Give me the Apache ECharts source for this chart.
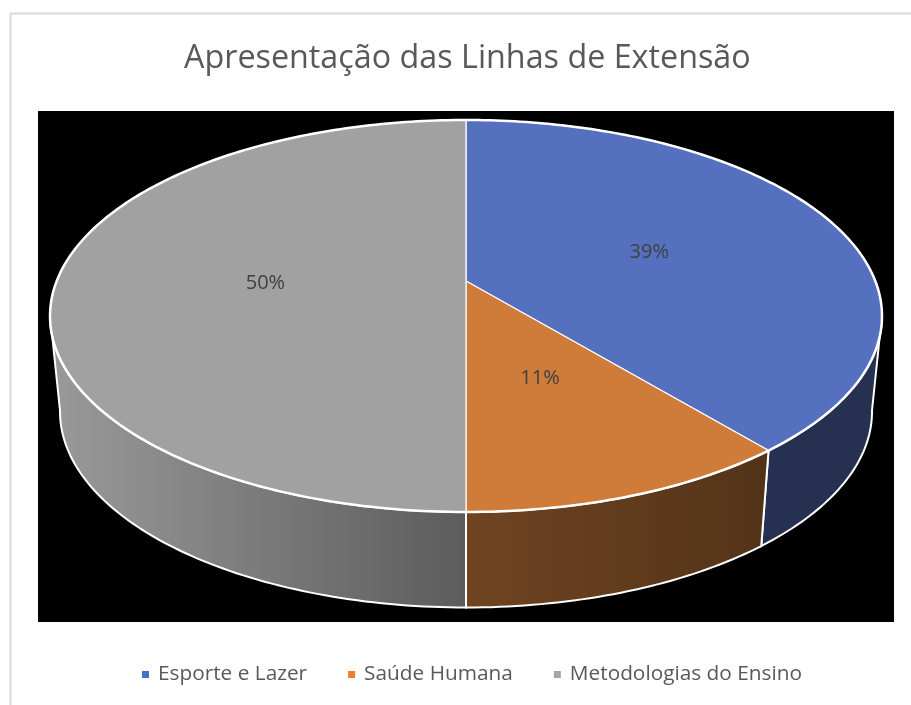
<!DOCTYPE html>
<html>
<head>
<meta charset="utf-8">
<style>
html, body { margin: 0; padding: 0; background: #fff; }
#main { width: 911px; height: 705px; }
</style>
<script src="https://cdn.jsdelivr.net/npm/echarts@6/dist/echarts.min.js"></script>
</head>
<body>
<div id="main"></div>
<script>
var categories = ['Esporte e Lazer', 'Saúde Humana', 'Metodologias do Ensino'];
var percentValues = [39, 11, 50];
var legendColors = ['#4472C4', '#ED7D31', '#A5A5A5'];
var topColors = ['#5570BF', '#CF7B39', '#A1A1A1'];
// wall gradient, left colour then right colour
var wallColors = [
    ['#263151', '#263151'],
    ['#704421', '#523318'],
    ['#9A9A9A', '#5C5C5C']
];

// projection of the tilted disc, Excel draws its 3D pie with some perspective
var pie = { cx: 466, cy: 281, a: 409.3, b: 189.75, k: -0.1786, wallX: 0.976, wallY: 95.5 };
// the wall only shows between these angles (degrees from the top, clockwise)
var wallFrom = 100, wallTo = 260;

function project(deg, r) {
    var t = deg * Math.PI / 180;
    var u = Math.sin(t) * r, v = -Math.cos(t) * r;
    var w = 1 + pie.k * v;
    return [pie.cx + pie.a * u / w, pie.cy + pie.b * v / w];
}

function projectWall(deg) {
    var p = project(deg, 1);
    return [pie.cx + (p[0] - pie.cx) * pie.wallX, p[1] + pie.wallY];
}

function arcPoints(from, to, fn) {
    var pts = [];
    var n = Math.max(2, Math.ceil(Math.abs(to - from)));
    for (var i = 0; i <= n; i++) {
        pts.push(fn(from + (to - from) * i / n));
    }
    return pts;
}

function rim(deg) {
    return project(deg, 1);
}

function renderSlice(params, api) {
    var i = params.seriesIndex;
    var start = api.value(0) * 3.6;
    var end = start + api.value(1) * 3.6;
    var children = [];

    var wFrom = Math.max(start, wallFrom), wTo = Math.min(end, wallTo);
    if (wTo > wFrom) {
        var top = arcPoints(wFrom, wTo, rim);
        var bottom = arcPoints(wFrom, wTo, projectWall).reverse();
        var xa = top[0][0], xb = top[top.length - 1][0];
        children.push({
            type: 'polygon',
            z2: 1,
            shape: { points: top.concat(bottom) },
            style: {
                fill: new echarts.graphic.LinearGradient(Math.min(xa, xb), 0, Math.max(xa, xb), 0, [
                    { offset: 0, color: wallColors[i][0] },
                    { offset: 1, color: wallColors[i][1] }
                ], true),
                stroke: '#fff',
                lineWidth: 2
            }
        });
    }

    children.push({
        type: 'polygon',
        z2: 5,
        shape: { points: [[pie.cx, pie.cy]].concat(arcPoints(start, end, rim)) },
        style: { fill: topColors[i], stroke: '#fff', lineWidth: 1.2 }
    });
    children.push({
        type: 'polyline',
        z2: 6,
        shape: { points: arcPoints(start, end, rim) },
        style: { fill: null, stroke: '#fff', lineWidth: 2.5 }
    });

    var mid = project((start + end) / 2, 0.49);
    children.push({
        type: 'text',
        z2: 10,
        style: {
            text: api.value(1) + '%',
            x: mid[0],
            y: mid[1] + 2,
            align: 'center',
            verticalAlign: 'middle',
            fill: '#404040',
            font: '20px "Open Sans"'
        }
    });
    return { type: 'group', children: children };
}

var series = [];
var acc = 0;
for (var i = 0; i < categories.length; i++) {
    series.push({
        type: 'custom',
        name: categories[i],
        coordinateSystem: 'none',
        renderItem: renderSlice,
        itemStyle: { color: legendColors[i] },
        data: [[acc, percentValues[i]]]
    });
    acc += percentValues[i];
}

var chart = echarts.init(document.getElementById('main'), null, { renderer: 'canvas' });
chart.setOption({
    animation: false,
    backgroundColor: '#fff',
    title: {
        text: 'Apresentação das Linhas de Extensão',
        left: 184,
        top: 43,
        padding: 0,
        textStyle: { color: '#595959', fontFamily: 'Open Sans', fontWeight: 'normal', fontSize: 32.3 }
    },
    legend: {
        left: 142,
        top: 664,
        padding: 0,
        itemWidth: 7,
        itemHeight: 7,
        itemGap: 41,
        icon: 'rect',
        data: categories,
        textStyle: { color: '#595959', fontFamily: 'Open Sans', fontSize: 20.8, padding: [0, 0, 0, 4] }
    },
    graphic: [
        {
            type: 'polyline',
            silent: true,
            shape: { points: [[10.5, 705], [10.5, 13.5], [911, 13.5]] },
            style: { fill: null, stroke: '#D9D9D9', lineWidth: 2 }
        },
        {
            type: 'rect',
            silent: true,
            shape: { x: 38, y: 111, width: 856, height: 511 },
            style: { fill: '#000' }
        }
    ],
    series: series
});
</script>
</body>
</html>
